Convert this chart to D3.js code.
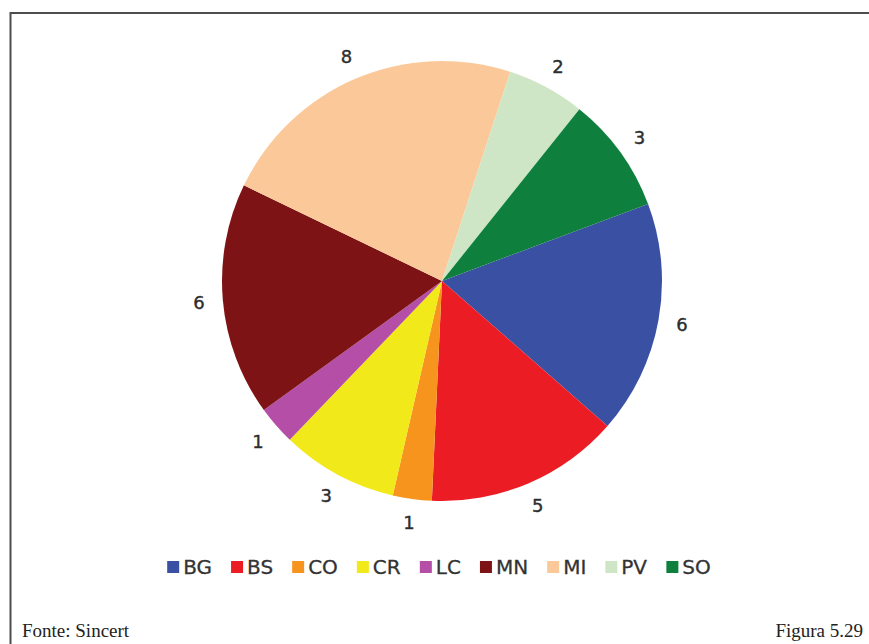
<!DOCTYPE html>
<html>
<head>
<meta charset="utf-8">
<script src="https://cdn.jsdelivr.net/npm/d3@7"></script>
<style>
  html, body { margin: 0; padding: 0; background: #fff; }
  svg { display: block; }
</style>
</head>
<body>
<script>
// Certified organisations by province
const categories = ["BG", "BS", "CO", "CR", "LC", "MN", "MI", "PV", "SO"];
const values = [6, 5, 1, 3, 1, 6, 8, 2, 3];
const colors = ["#3a51a3", "#ec1c24", "#f7941d", "#f1e919", "#b44ea6", "#7d1315", "#fbc999", "#cfe6c6", "#0f7f3d"];
const sourceText = "Fonte: Sincert";
const figureText = "Figura 5.29";

const W = 869, H = 644;
const cx = 442, cy = 281, R = 220, labelR = 244;
const startDeg = 69.5;

const svg = d3.select("body").append("svg")
  .attr("width", W).attr("height", H);

// Frame
svg.append("path")
  .attr("d", `M10.5,${H} L10.5,13 L${W},13`)
  .attr("fill", "none").attr("stroke", "#4d4d4d").attr("stroke-width", 2);

const data = categories.map((c, i) => ({ cat: c, value: values[i], color: colors[i] }));

const start = startDeg * Math.PI / 180;
const pie = d3.pie().value(d => d.value).sort(null)
  .startAngle(start).endAngle(start + 2 * Math.PI);
const arcs = pie(data);

const arc = d3.arc().innerRadius(0).outerRadius(R);
const labelArc = d3.arc().innerRadius(labelR).outerRadius(labelR);

const g = svg.append("g").attr("transform", `translate(${cx},${cy})`);

g.selectAll("path.slice").data(arcs).join("path")
  .attr("class", "slice")
  .attr("d", arc)
  .attr("fill", d => d.data.color);

g.selectAll("text.val").data(arcs).join("text")
  .attr("class", "val")
  .attr("transform", d => `translate(${labelArc.centroid(d)})`)
  .attr("text-anchor", "middle")
  .attr("dy", "0.36em")
  .attr("font-family", "DejaVu Sans, Verdana, sans-serif")
  .attr("font-size", 18)
  .attr("stroke", "#2e2e2e").attr("stroke-width", 0.4)
  .attr("fill", "#2e2e2e")
  .text(d => d.data.value);

// Legend
const legend = svg.append("g");
const fs = 20, box = 12, gapBox = 4, gapItem = 19;
let x = 0;
const items = legend.selectAll("g.item").data(data).join("g").attr("class", "item");
items.append("rect")
  .attr("width", box).attr("height", box)
  .attr("y", -box / 2)
  .attr("fill", d => d.color);
items.append("text")
  .attr("x", box + gapBox)
  .attr("dy", "0.36em")
  .attr("font-family", "DejaVu Sans, Verdana, sans-serif")
  .attr("font-size", fs)
  .attr("stroke", "#333").attr("stroke-width", 0.3)
  .attr("fill", "#333")
  .text(d => d.cat);
items.each(function () {
  const w = this.getBBox().width;
  d3.select(this).attr("transform", `translate(${x},0)`);
  x += w + gapItem;
});
const total = x - gapItem;
legend.attr("transform", `translate(${439 - total / 2},567)`);

// Footer
svg.append("text")
  .attr("x", 22).attr("y", 637)
  .attr("font-family", "Liberation Serif, Times New Roman, serif")
  .attr("font-size", 19).attr("fill", "#222")
  .text(sourceText);
svg.append("text")
  .attr("x", 863).attr("y", 637)
  .attr("text-anchor", "end")
  .attr("font-family", "Liberation Serif, Times New Roman, serif")
  .attr("font-size", 19).attr("fill", "#222")
  .text(figureText);
</script>
</body>
</html>
